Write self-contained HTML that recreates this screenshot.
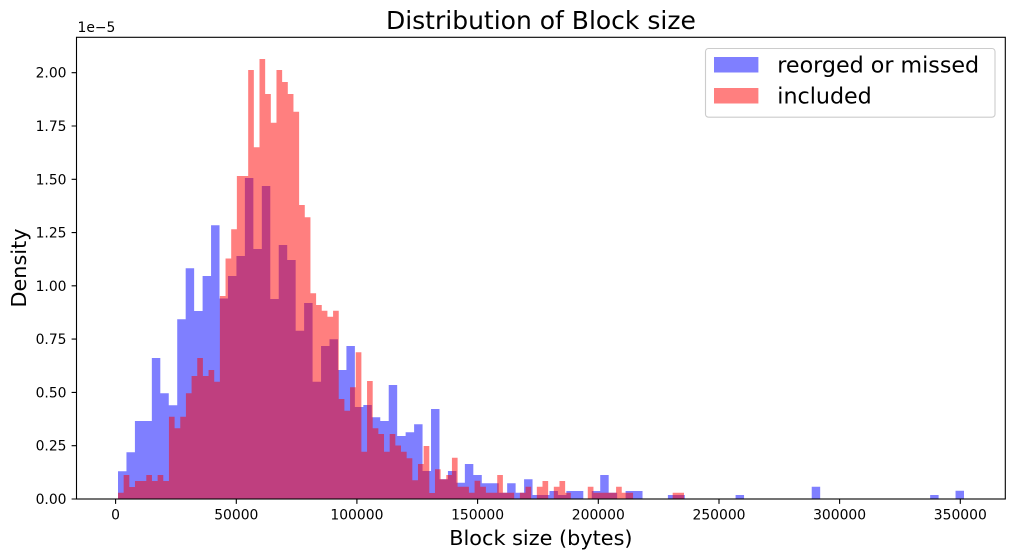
<!DOCTYPE html>
<html><head><meta charset="utf-8"><style>
html,body{margin:0;padding:0;background:#fff;}
svg{display:block;}
text{font-family:"DejaVu Sans","Liberation Sans",sans-serif;fill:#000;}
</style></head><body>
<svg width="1016" height="558" viewBox="0 0 1016 558" xmlns="http://www.w3.org/2000/svg">
<rect x="0" y="0" width="1016" height="558" fill="#fff"/>
<g transform="translate(118 0) scale(8.46 1)">
<path fill="#0000ff" fill-opacity="0.5" d="M0 499V471.3H1V452.3H2V421H4V358H5V393.3H6V405.3H7V319.3H8V268.3H9V311H10V276H11V225.3H12V298.5H13V276H14V256H15V178H16V249H17V186H18V299H19V245H20V260H21V330.7H22V303H23V381.7H24V346H25V339.3H26V370H27V346H28V407H29V405H30V417.3H31V421H32V385H33V436H34V432.3H35V424.3H36V471H37V409H38V479.3H39V471H40V482.7H41V464H42V475H43V483.3H45V492.7H46V483.3H47V492.7H48V479.3H49V495H51V491H52V495H53V491H55V499H56V491H57V475H58V492.7H59V499H60V491H62V499H65V495H67V499H73V495H74V499H82V486.7H83V499H96V495H97V499H99V490.7H100V499Z"/>
</g>
<g transform="translate(118 0) scale(5.66 1)">
<path fill="#ff0000" fill-opacity="0.5" d="M0 499V492.7H1V475H2V487H3V481H5V475H6V481H7V475H8V481H9V416.7H10V428.3H11V416.7H12V393.3H13V376H14V358H15V376H16V370H17V381.7H18V296H19V258.5H20V229.2H21V176H23V70H24V147.3H25V59H26V94H27V122.7H28V70H29V82H30V94H31V111.7H32V205H33V217.3H34V293.3H35V305H36V310.7H37V316.7H38V310.7H39V399H40V410.7H41V387.3H42V352.3H43V451.7H44V381H45V428.3H46V434H47V451.7H48V434H49V445.5H50V451.7H51V458.3H52V480.3H53V464H54V446H55V493H56V469.3H57V479.3H58V475H59V457.7H60V486.7H62V492.7H63V480.7H64V486.7H65V492.7H67V475H68V492.7H70V499H71V492.7H72V486.7H73V499H74V486.7H75V481H76V499H77V486.7H78V481H79V492.7H80V499H83V486.7H84V492.7H88V486.7H89V492.7H91V499H98V492.7H100V499Z"/>
</g>
<rect x="76.5" y="37.3" width="928.8" height="461.7" fill="none" stroke="#000" stroke-width="1.1"/>
<path stroke="#000" stroke-width="1.1" fill="none" d="M71.6 499H76.5M71.6 445.7H76.5M71.6 392.4H76.5M71.6 339.1H76.5M71.6 285.8H76.5M71.6 232.6H76.5M71.6 179.3H76.5M71.6 126H76.5M71.6 72.7H76.5"/>
<path stroke="#000" stroke-width="1.1" fill="none" d="M115.6 499V503.9M236.3 499V503.9M356.9 499V503.9M477.6 499V503.9M598.3 499V503.9M719 499V503.9M839.6 499V503.9M960.3 499V503.9"/>
<g font-size="13.9" text-anchor="end">
<text x="66.5" y="504">0.00</text>
<text x="66.5" y="450.7">0.25</text>
<text x="66.5" y="397.4">0.50</text>
<text x="66.5" y="344.1">0.75</text>
<text x="66.5" y="290.8">1.00</text>
<text x="66.5" y="237.6">1.25</text>
<text x="66.5" y="184.3">1.50</text>
<text x="66.5" y="131">1.75</text>
<text x="66.5" y="77.7">2.00</text>
</g>
<text x="77.5" y="32" font-size="13.9">1e−5</text>
<g font-size="13.9" text-anchor="middle">
<text x="115.6" y="519.3">0</text>
<text x="236.3" y="519.3">50000</text>
<text x="356.9" y="519.3">100000</text>
<text x="477.6" y="519.3">150000</text>
<text x="598.3" y="519.3">200000</text>
<text x="719" y="519.3">250000</text>
<text x="839.6" y="519.3">300000</text>
<text x="960.3" y="519.3">350000</text>
</g>
<text x="540.9" y="545" font-size="20.8" text-anchor="middle">Block size (bytes)</text>
<text transform="translate(26 268) rotate(-90)" font-size="20.8" text-anchor="middle">Density</text>
<text x="540.9" y="29" font-size="25" text-anchor="middle">Distribution of Block size</text>
<rect x="705.5" y="48.5" width="289.5" height="68.7" rx="3" ry="3" fill="#fff" fill-opacity="0.8" stroke="#cccccc" stroke-width="1.1"/>
<rect x="714" y="57" width="44.4" height="15.5" fill="#0000ff" fill-opacity="0.5"/>
<rect x="714" y="88" width="44.4" height="15.5" fill="#ff0000" fill-opacity="0.5"/>
<text x="777.3" y="72.7" font-size="22.2">reorged or missed</text>
<text x="777.3" y="103.7" font-size="22.2">included</text>
</svg>
</body></html>
